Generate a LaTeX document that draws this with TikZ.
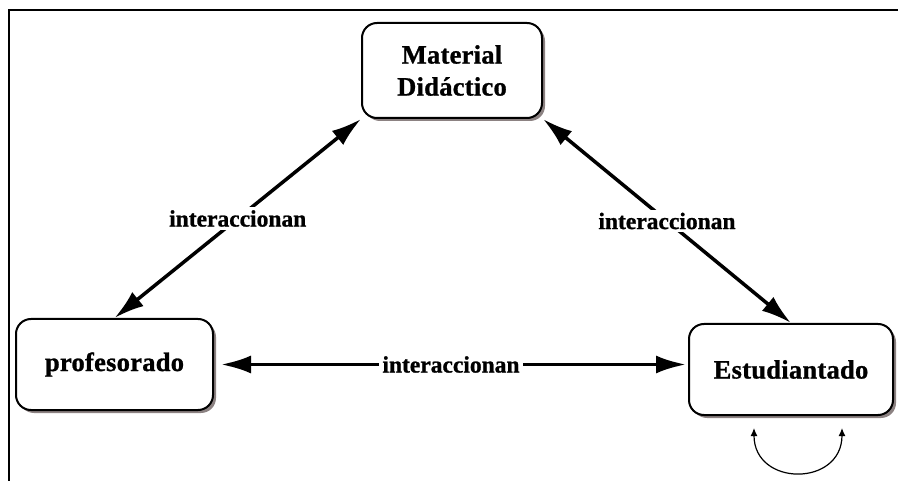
\documentclass[tikz,border=0pt]{standalone}
\usepackage{fontspec}
\setmainfont{Liberation Serif}
\newfontfamily\boxfont[LetterSpace=1,BoldFeatures={FakeBold=1}]{Liberation Serif}
\newfontfamily\labfont[BoldFeatures={FakeBold=1}]{Liberation Serif}
\usetikzlibrary{arrows.meta,shadows}
\definecolor{shadowgray}{RGB}{140,130,130}
\tikzset{
mybox/.style={
  draw=black,
  line width=2pt,
  fill=white,
  rounded corners=15pt,
  align=center,
  font=\boxfont\bfseries\fontsize{26.5}{32}\selectfont,
  drop shadow={shadow xshift=3pt,shadow yshift=-3pt,fill=shadowgray,opacity=1}
  },
mylabel/.style={
  fill=white,
  inner sep=3pt,
  font=\labfont\bfseries\fontsize{23.5}{26}\selectfont
  },
myarrow/.style={
  line width=3.5pt,
  {Latex[length=30pt,width=18pt]}-{Latex[length=30pt,width=18pt]}
  },
myloop/.style={
  line width=1.2pt,
  {Latex[length=8pt,width=7pt]}-{Latex[length=8pt,width=7pt]}
  }
}

\begin{document}
\begin{tikzpicture}[x=1pt,y=-1pt]
\useasboundingbox (0,0) rectangle (898,481);
% frame
\draw[line width=2pt] (9,481) -- (9,10) -- (898,10);

% boxes
\node[mybox,minimum width=180pt,minimum height=95pt] (md) at (452,70.5)
  {Material\\Didáctico};
\node[mybox,minimum width=197pt,minimum height=91pt] (prof) at (114.5,364.5)
  {profesorado};
\node[mybox,minimum width=204pt,minimum height=91pt] (est) at (791,369.5)
  {Estudiantado};

% connectors
\draw[myarrow] (md.south west) -- node[mylabel] (lab1) {interaccionan} (prof.north);
\draw[myarrow] (md.south east) -- node[mylabel] (lab2) {interaccionan} (est.north);
\draw[myarrow,shorten <=7pt,shorten >=2pt] (prof.east) --
  node[mylabel] (lab3) {interaccionan} (prof.east -| est.west);

% loop under Estudiantado
\coordinate (loopL) at (754,428);
\coordinate (loopR) at (842,428);
\draw[myloop] (loopL) .. controls (754,487) and (842,487) .. (loopR);
\end{tikzpicture}
\end{document}
